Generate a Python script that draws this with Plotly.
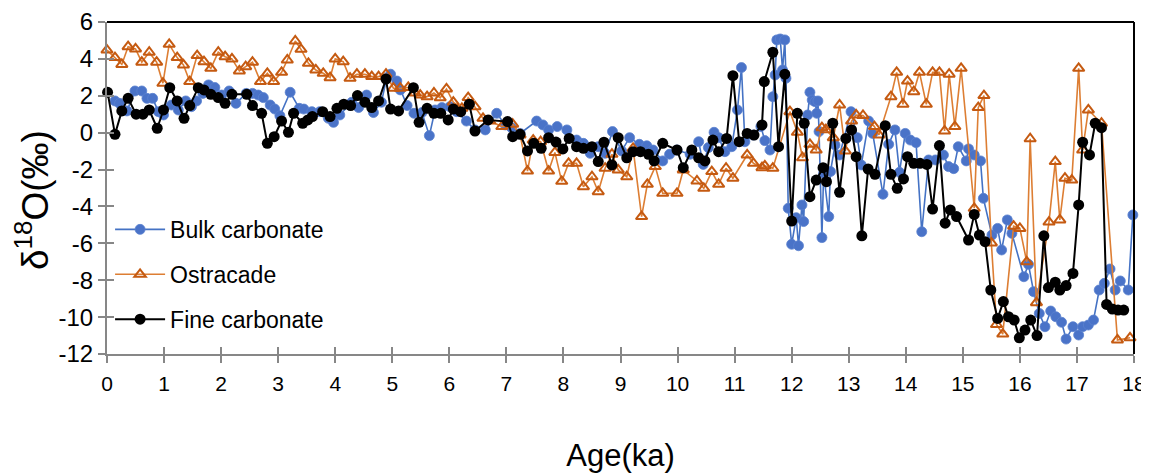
import plotly.graph_objects as go

# ---------------- data ----------------
bulk_age = [0.14, 0.22, 0.35, 0.49, 0.61, 0.70, 0.80, 0.90, 0.99, 1.13, 1.25, 1.38, 1.48, 1.57, 1.68,
            1.78, 1.89, 2.01, 2.14, 2.26, 2.44, 2.55, 2.65, 2.74, 2.86, 2.94, 3.03, 3.21, 3.37, 3.45,
            3.59, 3.73, 3.88, 3.97, 4.08, 4.29, 4.41, 4.55, 4.67, 4.81, 4.90, 4.97, 5.08, 5.14, 5.26,
            5.38, 5.52, 5.65, 5.75, 5.87, 6.01, 6.13, 6.30, 6.45, 6.63, 6.83, 6.98, 7.09, 7.24, 7.53,
            7.64, 7.74, 7.89, 8.06, 8.23, 8.35, 8.47, 8.61, 8.73, 8.86, 9.02, 9.16, 9.33, 9.46, 9.57,
            9.74, 9.86, 9.99, 10.22, 10.37, 10.45, 10.54, 10.64, 10.72, 10.83, 10.95, 11.05, 11.12,
            11.18, 11.33, 11.46, 11.53, 11.62, 11.67, 11.71, 11.74, 11.80, 11.84, 11.88, 11.90, 11.94,
            12.00, 12.08, 12.12, 12.18, 12.21, 12.28, 12.32, 12.36, 12.41, 12.44, 12.46, 12.48, 12.53,
            12.56, 12.65, 12.68, 12.76, 12.84, 13.04, 13.15, 13.22, 13.35, 13.42, 13.60, 13.70, 13.81,
            13.89, 13.99, 14.08, 14.18, 14.28, 14.40, 14.52, 14.66, 14.75, 14.84, 14.92, 15.06, 15.10,
            15.20, 15.31, 15.36, 15.51, 15.61, 15.68, 15.78, 15.86, 16.07, 16.15, 16.24, 16.34, 16.44,
            16.54, 16.63, 16.73, 16.81, 16.93, 17.03, 17.10, 17.20, 17.29, 17.39, 17.48, 17.58, 17.67,
            17.76, 17.90, 17.98]
bulk_d18o = [1.72, 1.59, 1.18, 2.26, 2.26, 1.86, 1.86, 1.14, 0.96, 1.50, 1.23, 1.72, 1.41, 1.72, 2.13,
             2.59, 2.45, 2.04, 2.26, 1.59, 2.13, 2.13, 2.04, 1.90, 1.50, 1.28, 0.92, 2.19, 1.32, 1.28,
             1.14, 1.14, 0.78, 0.56, 0.96, 1.65, 1.36, 2.04, 1.09, 1.65, 2.95, 3.17, 2.80, 2.32, 1.47,
             1.05, 1.09, -0.16, 1.23, 1.36, 1.41, 1.14, 0.63, 0.15, 0.15, 1.05, 0.42, 0.27, -0.04, 0.63,
             0.42, 0.15, 0.33, 0.15, -0.40, -0.58, -1.12, -0.76, -1.12, 0.06, -0.99, -0.27, -0.63, -0.71, -0.94,
             -1.53, -1.17, -0.94, -1.17, -0.49, -1.72, -0.81, 0.02, -0.27, -1.03, -0.76, 1.23, 3.53,
             -0.49, -0.13, 0.33, -0.43, -0.94, 1.95, 3.13, 5.03, 5.08, 3.40, 5.03, 2.95, -4.10,
             -6.05, -4.61, -6.13, -3.92, -4.82, 0.96, 2.19, 1.77, 1.68, 1.05, 1.72, 0.06, -5.69,
             -2.20, -4.55, -2.11, -0.67, -1.21, 1.14, -0.27, -1.75, 0.63, -0.04, -3.34, -0.63, 0.15,
             -2.15, -0.04, -0.40, -0.54, -5.37, -1.48, -1.48, -1.21, -1.84, -1.95, -0.76, -1.53, -0.88,
             -1.21, -1.53, -3.56, -5.55, -5.19, -6.36, -4.73, -5.46, -7.81, -7.14, -8.62, -9.80, -10.52,
             -9.67, -9.98, -10.28, -11.19, -10.52, -10.97, -10.52, -10.43, -10.16, -8.53, -8.17, -7.39, -8.53,
             -8.04, -8.53, -4.46]

ostr_age = [0.00, 0.14, 0.26, 0.37, 0.50, 0.61, 0.74, 0.87, 0.98, 1.09, 1.23, 1.34, 1.45, 1.58, 1.70,
            1.82, 1.95, 2.07, 2.19, 2.32, 2.43, 2.55, 2.69, 2.81, 2.92, 3.06, 3.16, 3.30, 3.40, 3.53,
            3.66, 3.79, 3.91, 4.00, 4.14, 4.26, 4.38, 4.52, 4.64, 4.76, 4.89, 5.02, 5.14, 5.28, 5.40,
            5.49, 5.61, 5.73, 5.84, 5.95, 6.07, 6.22, 6.33, 6.45, 6.59, 6.71, 6.92, 7.11, 7.24, 7.37,
            7.47, 7.60, 7.74, 7.85, 7.97, 8.09, 8.23, 8.35, 8.50, 8.61, 8.73, 8.85, 8.96, 9.11, 9.22,
            9.37, 9.47, 9.61, 9.74, 9.99, 10.10, 10.34, 10.46, 10.60, 10.72, 10.85, 10.97, 11.22, 11.33,
            11.48, 11.53, 11.67, 11.97, 12.10, 12.19, 12.32, 12.43, 12.53, 12.60, 12.73, 12.84, 12.94,
            13.05, 13.13, 13.25, 13.45, 13.53, 13.74, 13.84, 13.95, 14.03, 14.14, 14.24, 14.36, 14.47,
            14.59, 14.68, 14.76, 14.86, 14.97, 15.20, 15.27, 15.37, 15.50, 15.59, 15.70, 15.89, 16.00,
            16.12, 16.18, 16.29, 16.51, 16.62, 16.70, 16.79, 16.91, 17.03, 17.10, 17.20, 17.43, 17.71,
            17.93]
ostr_d18o = [4.48, 4.07, 3.70, 4.66, 4.54, 3.82, 4.36, 3.82, 2.68, 4.79, 4.07, 3.67, 2.77, 4.18, 3.85,
             3.49, 4.36, 4.12, 4.00, 3.35, 3.58, 3.82, 2.77, 3.22, 2.77, 3.27, 3.94, 4.97, 4.52, 3.76,
             3.40, 3.22, 2.98, 4.00, 3.85, 2.95, 3.17, 3.17, 3.04, 3.04, 3.17, 2.41, 2.41, 2.45, 2.15,
             2.04, 1.95, 2.15, 1.89, 2.37, 1.65, 1.32, 1.90, 1.41, 0.78, 0.63, 0.33, 0.46, -0.12, -2.08,
             -0.40, -0.49, -2.08, -1.07, -2.64, -1.66, -1.66, -2.93, -2.39, -3.20, -1.93, -1.17, -2.02, -2.39, -0.85,
             -4.55, -2.80, -1.84, -3.29, -3.29, -2.02, -2.62, -3.02, -2.11, -2.80, -1.93, -2.47, -1.21, -1.66,
             -1.90, -1.80, -1.93, 1.14, 0.02, -1.36, -0.63, -0.94, 0.27, 0.16, -0.27, 1.50, -0.99,
             0.63, 0.96, 0.93, 0.33, -0.12, 1.95, 3.27, 1.54, 2.80, 2.22, 3.27, 1.54, 3.27,
             3.27, 0.09, 3.17, 0.33, 3.49, -4.10, 1.36, 2.01, -5.98, -10.40, -10.92, -5.07, -5.19,
             -7.00, -0.33, -9.22, -4.85, -1.57, -4.73, -2.47, -2.57, 3.49, -0.94, 1.23, 0.51, -11.24,
             -11.12]

fine_age = [0.01, 0.14, 0.26, 0.37, 0.51, 0.63, 0.74, 0.88, 0.99, 1.10, 1.23, 1.35, 1.45, 1.60, 1.70,
            1.82, 1.95, 2.07, 2.19, 2.45, 2.55, 2.71, 2.81, 2.93, 3.06, 3.18, 3.27, 3.43, 3.52, 3.60,
            3.78, 3.91, 4.03, 4.15, 4.27, 4.39, 4.52, 4.64, 4.76, 4.89, 4.97, 5.11, 5.37, 5.47, 5.61,
            5.73, 5.85, 5.98, 6.07, 6.20, 6.35, 6.45, 6.68, 7.02, 7.11, 7.24, 7.37, 7.48, 7.61, 7.74,
            7.87, 7.99, 8.10, 8.23, 8.35, 8.50, 8.61, 8.71, 8.85, 8.96, 9.11, 9.22, 9.35, 9.49, 9.59,
            9.74, 9.99, 10.10, 10.25, 10.37, 10.48, 10.62, 10.72, 10.86, 10.97, 11.08, 11.22, 11.34,
            11.48, 11.52, 11.67, 11.77, 11.88, 12.00, 12.10, 12.22, 12.32, 12.43, 12.55, 12.61, 12.72,
            12.84, 12.95, 13.05, 13.13, 13.23, 13.34, 13.46, 13.64, 13.74, 13.85, 13.96, 14.03, 14.14,
            14.25, 14.37, 14.47, 14.59, 14.69, 14.78, 14.89, 15.10, 15.20, 15.29, 15.39, 15.49, 15.61,
            15.71, 15.80, 15.90, 15.99, 16.09, 16.19, 16.30, 16.42, 16.50, 16.62, 16.70, 16.81, 16.93,
            17.03, 17.10, 17.22, 17.32, 17.43, 17.52, 17.62, 17.72, 17.82]
fine_d18o = [2.19, -0.09, 1.18, 1.86, 1.00, 1.00, 1.23, 0.24, 1.23, 2.44, 1.72, 0.78, 1.47, 2.44, 2.32,
             2.08, 1.90, 1.59, 2.08, 2.08, 1.47, 1.05, -0.58, -0.22, 0.63, 0.02, 1.05, 0.51, 0.69, 0.87,
             1.14, 0.87, 1.32, 1.54, 1.47, 2.01, 1.65, 1.36, 1.72, 2.91, 1.28, 1.18, 2.44, 0.56, 1.32,
             1.05, 1.05, 0.69, 1.28, 1.14, 1.54, 0.09, 0.69, 0.60, -0.22, -0.09, -0.99, -0.58, -0.85, -0.27,
             -0.51, -0.88, -0.31, -0.76, -0.85, -0.76, -1.57, -0.52, -1.75, -0.27, -1.36, -1.03, -1.03, -1.17, -1.53,
             -0.58, -0.94, -1.90, -0.94, -1.36, -1.53, -0.40, -1.03, -0.31, 3.09, -0.49, -0.04, -0.13,
             0.42, 2.77, 4.36, -0.76, 3.17, -4.79, 1.05, 0.51, -3.47, -2.57, -1.90, -2.66, 0.51,
             -3.23, -0.31, 0.15, -1.30, -5.59, -1.97, -2.26, 0.38, -2.26, -3.02, -2.51, -1.30, -1.66,
             -1.66, -1.72, -4.14, -0.70, -4.91, -4.19, -4.55, -5.82, -4.43, -5.55, -5.91, -8.53, -10.07,
             -9.16, -9.98, -10.16, -11.12, -10.70, -10.16, -11.00, -5.59, -8.40, -8.11, -8.53, -8.29, -7.63,
             -3.92, -0.52, -1.21, 0.51, 0.27, -9.31, -9.56, -9.62, -9.62]

x_ticks = list(range(0, 19))
y_ticks = list(range(-12, 7, 2))

# ---------------- figure ----------------
FONT = "Liberation Sans, Arial, sans-serif"
AXIS_GREY = "#878787"

fig = go.Figure()

fig.add_trace(go.Scatter(
    x=bulk_age, y=bulk_d18o, mode="lines+markers", name="Bulk carbonate",
    line=dict(color="#4472C4", width=1.6),
    marker=dict(symbol="circle", size=10, color="#4A73C8", line=dict(color="#5B82CF", width=0.8)),
    cliponaxis=False, legendgroup="a", legendrank=1,
))
fig.add_trace(go.Scatter(
    x=ostr_age, y=ostr_d18o, mode="lines+markers", name="Ostracade",
    line=dict(color="#DD7E33", width=1.6),
    marker=dict(symbol="triangle-up-open", size=10, color="#C55A11", line=dict(color="#C55A11", width=2)),
    cliponaxis=False, legendgroup="b", legendrank=2,
))
fig.add_trace(go.Scatter(
    x=fine_age, y=fine_d18o, mode="lines+markers", name="Fine carbonate",
    line=dict(color="#000000", width=2),
    marker=dict(symbol="circle", size=11, color="#000000"),
    cliponaxis=False, legendgroup="c", legendrank=3,
))
# ghost trace for the inside-tick overlay axes
fig.add_trace(go.Scatter(x=[], y=[], xaxis="x2", yaxis="y2", showlegend=False, hoverinfo="skip"))

# The page body keeps its default 8px margin, so the figure is drawn 8px in from the
# top-left corner; the size and margins below allow for that offset.
fig.update_layout(
    width=1141, height=465,
    margin=dict(l=99, r=15, t=14, b=119),
    paper_bgcolor="white", plot_bgcolor="white",
    font=dict(family=FONT, color="#000000"),
    showlegend=True,
    legend=dict(
        x=0.003, y=0.44, xanchor="left", yanchor="top",
        bgcolor="rgba(0,0,0,0)", borderwidth=0,
        font=dict(size=23, family=FONT, color="#000000"),
        tracegroupgap=12, itemwidth=50,
    ),
    xaxis=dict(
        range=[0, 18], tickvals=x_ticks, ticktext=[str(v) for v in x_ticks],
        showgrid=False, zeroline=False, automargin=False,
        showline=True, linecolor=AXIS_GREY, linewidth=2,
        ticks="outside", ticklen=7, tickwidth=2, tickcolor=AXIS_GREY,
        tickfont=dict(size=21, family="Liberation Sans Narrow, Arial Narrow, " + FONT),
        ticklabelstandoff=3, ticklabeloverflow="allow",
        title=dict(text="Age(ka)", font=dict(size=31, family=FONT), standoff=63),
    ),
    yaxis=dict(
        range=[-12, 6], tickvals=y_ticks, ticktext=[str(v) for v in y_ticks],
        showgrid=False, zeroline=False, automargin=False,
        showline=True, linecolor=AXIS_GREY, linewidth=2,
        ticks="outside", ticklen=7, tickwidth=2, tickcolor=AXIS_GREY,
        tickfont=dict(size=24, family=FONT),
        ticklabelstandoff=0,
    ),
    xaxis2=dict(
        range=[0, 18], tickvals=x_ticks, overlaying="x", anchor="y2", side="bottom",
        showgrid=False, zeroline=False, showline=False, showticklabels=False,
        ticks="inside", ticklen=7, tickwidth=2, tickcolor=AXIS_GREY,
    ),
    yaxis2=dict(
        range=[-12, 6], tickvals=y_ticks, overlaying="y", anchor="x2", side="left",
        showgrid=False, zeroline=False, showline=False, showticklabels=False,
        ticks="inside", ticklen=7, tickwidth=2, tickcolor=AXIS_GREY,
    ),
    annotations=[
        dict(text="δ<sup>18</sup>O(‰)", textangle=-90, xref="paper", yref="paper",
             x=0, y=0.5, xanchor="center", yanchor="middle", xshift=-75, yshift=-12,
             showarrow=False, font=dict(size=37, family=FONT, color="#000000")),
    ],
    shapes=[
        dict(type="line", xref="x domain", yref="y domain", x0=0, x1=1, y0=1, y1=1,
             line=dict(color="#000000", width=2), layer="above"),
        dict(type="line", xref="x domain", yref="y domain", x0=1, x1=1, y0=0, y1=1,
             line=dict(color="#000000", width=2), layer="above"),
    ],
)

fig.write_html("out.html")
